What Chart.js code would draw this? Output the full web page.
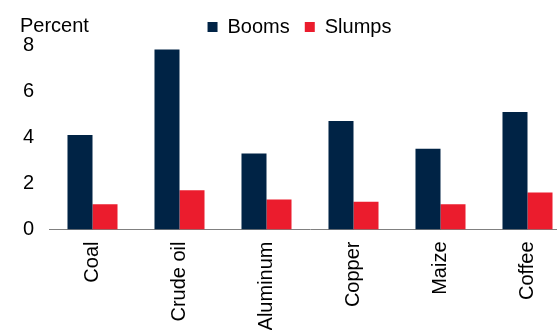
<!DOCTYPE html>
<html>
<head>
<meta charset="utf-8">
<script src="https://cdn.jsdelivr.net/npm/chart.js@4/dist/chart.umd.min.js"></script>
<style>
  html, body { margin: 0; padding: 0; background: #fff; overflow: hidden; }
  #wrap { width: 571px; height: 330px; }
</style>
</head>
<body>
<div id="wrap"><canvas id="chart" width="571" height="330"></canvas></div>
<script>
/* ─── DATA ───────────────────────────────────────────── */
const categories = ['Coal', 'Crude oil', 'Aluminum', 'Copper', 'Maize', 'Coffee']
const booms      = [4.1, 7.8, 3.3, 4.7, 3.5, 5.1]
const slumps     = [1.1, 1.7, 1.3, 1.2, 1.1, 1.6]
const yTicks     = [0, 2, 4, 6, 8]
const unitLabel  = 'Percent'

/* ─── STYLE ──────────────────────────────────────────── */
const FONT   = '"Liberation Sans", Arial, sans-serif'
const NAVY   = '#002345'
const RED    = '#EB1C2D'
const AXIS   = '#808080'
const INK    = '#000000'

// legend sits on the same line as the "Percent" label, nudged right
const LEGEND_DX = 14
const LEGEND_DY = 2

const legendNudge = {
  id: 'legendNudge',
  afterLayout(chart) {
    const lg = chart.legend
    if (!lg) return
    lg.left += LEGEND_DX; lg.right += LEGEND_DX
    lg.top += LEGEND_DY;  lg.bottom += LEGEND_DY
  },
}

const unitText = {
  id: 'unitText',
  afterDraw(chart) {
    const ctx = chart.ctx
    ctx.save()
    ctx.font = `20px ${FONT}`
    ctx.fillStyle = INK
    ctx.textAlign = 'left'
    ctx.textBaseline = 'alphabetic'
    ctx.fillText(unitLabel, 20, 31.5)
    ctx.restore()
  },
}

new Chart(document.getElementById('chart'), {
  type: 'bar',
  data: {
    labels: categories,
    datasets: [
      { label: 'Booms',  data: booms,  backgroundColor: NAVY, borderWidth: 0 },
      { label: 'Slumps', data: slumps, backgroundColor: RED,  borderWidth: 0 },
    ],
  },
  options: {
    responsive: false,
    animation: false,
    devicePixelRatio: 1,
    layout: { padding: { top: 0, left: 0, right: 0, bottom: 0 } },
    datasets: { bar: { barPercentage: 1, categoryPercentage: 0.575 } },
    plugins: {
      legend: {
        display: true,
        position: 'top',
        align: 'center',
        labels: {
          boxWidth: 10,
          boxHeight: 10,
          padding: 15,
          color: INK,
          font: { family: FONT, size: 20 },
        },
      },
      tooltip: { enabled: false },
      title: { display: false },
    },
    scales: {
      x: {
        grid: { display: false, drawTicks: false },
        border: { display: true, color: AXIS, width: 1 },
        ticks: {
          autoSkip: false,
          maxRotation: 90,
          minRotation: 90,
          padding: 12,
          color: INK,
          font: { family: FONT, size: 20 },
        },
        afterFit: s => { s.height = 100.5 },
      },
      y: {
        min: 0,
        max: 8,
        grid: { display: false, drawTicks: false },
        border: { display: false },
        afterBuildTicks: s => { s.ticks = yTicks.map(v => ({ value: v })) },
        ticks: {
          padding: 15,
          color: INK,
          font: { family: FONT, size: 20 },
        },
        afterFit: s => { s.width = 49 },
      },
    },
  },
  plugins: [legendNudge, unitText],
})
</script>
</body>
</html>
